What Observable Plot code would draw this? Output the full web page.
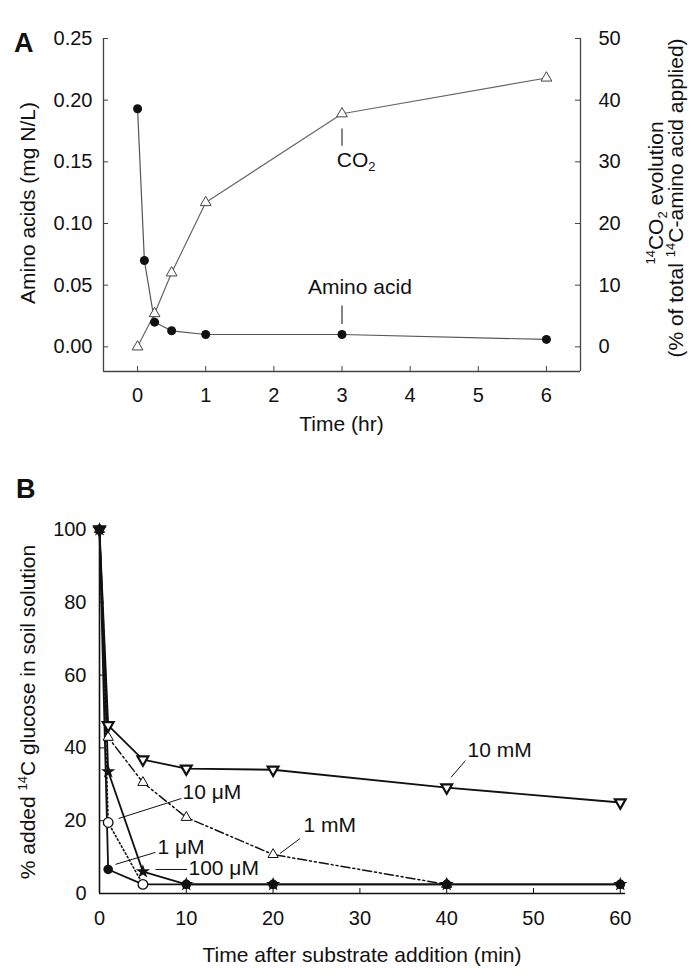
<!DOCTYPE html>
<html><head><meta charset="utf-8">
<script src="https://cdn.jsdelivr.net/npm/d3@7"></script>
<script src="https://cdn.jsdelivr.net/npm/@observablehq/plot@0.6"></script>
<style>
body{margin:0;background:#fff;}
#chart{width:700px;height:980px;font-family:"Liberation Sans",Arial,sans-serif;}
#chart svg{display:block;}
</style></head><body><div id="chart"></div>
<script>
// ---------- Panel A data ----------
const timeAmino = [0, 0.1, 0.25, 0.5, 1, 3, 6];
const aminoAcid = [0.193, 0.070, 0.020, 0.013, 0.010, 0.010, 0.006];
const timeCO2 = [0, 0.25, 0.5, 1, 3, 6];
const co2Evolution = [0, 5.4, 12.0, 23.4, 37.8, 43.6];
const xTicksA = [0, 1, 2, 3, 4, 5, 6];
const yTicksA = [0, 0.05, 0.10, 0.15, 0.20, 0.25];
const yTicksA2 = [0, 10, 20, 30, 40, 50];

// ---------- Panel B data ----------
const timeB = [0, 1, 5, 10, 20, 40, 60];
const glc10mM = [100, 46.2, 36.8, 34.3, 34.0, 29.1, 25.0];
const time1mM = [0, 1, 5, 10, 20, 40];
const glc1mM = [100, 42.9, 30.5, 20.9, 10.7, 2.5];
const glc100uM = [100, 33.5, 6.0, 2.5, 2.5, 2.5, 2.5];
const time10uM = [0, 1, 5];
const glc10uM = [100, 19.5, 2.5];
const glc1uM = [100, 6.6, 2.5, 2.5, 2.5, 2.5, 2.5];
const xTicksB = [0, 10, 20, 30, 40, 50, 60];
const yTicksB = [0, 20, 40, 60, 80, 100];
const labelsB = ["10 mM", "1 mM", "10 \u03BCM", "1 \u03BCM", "100 \u03BCM"];

const FONT = "'Liberation Sans', Arial, sans-serif";
const INK = "#111";
const k = yTicksA[yTicksA.length - 1] / yTicksA2[yTicksA2.length - 1]; // right-axis -> left-axis factor

const zip = (xs, ys) => xs.map((t, i) => ({t, v: ys[i]}));
const aminoData = zip(timeAmino, aminoAcid);
const co2Data = timeCO2.map((t, i) => ({t, v: co2Evolution[i] * k}));

function richText(svg, {x, y, rotate = 0, anchor = "middle", parts, size = 21, weight = "normal"}) {
  const t = d3.select(svg).append("text")
    .attr("transform", `translate(${x},${y}) rotate(${rotate})`)
    .attr("text-anchor", anchor)
    .attr("font-family", FONT)
    .attr("font-size", size)
    .attr("font-weight", weight)
    .attr("fill", INK);
  for (const p of parts) {
    const ts = t.append("tspan").text(p.text);
    if (p.sup) ts.attr("font-size", size * 0.62).attr("baseline-shift", size * 0.38);
    if (p.sub) ts.attr("font-size", size * 0.62).attr("baseline-shift", -size * 0.2);
  }
  return t;
}

// ---------- Panel A ----------
const fwA = 700 - 103 - 120, fhA = 450 - 38 - 79;
const plotA = Plot.plot({
  width: 700, height: 450,
  marginLeft: 103, marginRight: 120, marginTop: 38, marginBottom: 79,
  x: {domain: [-0.5, 6.5]},
  y: {domain: [-0.02, 0.25]},
  style: {fontFamily: FONT, fontSize: "20px", color: INK, background: "white", overflow: "visible"},
  marks: [
    Plot.ruleX([-0.5, 6.5], {stroke: "#444", strokeWidth: 1.3}),
    Plot.ruleY([-0.02], {stroke: "#444", strokeWidth: 1.3}),
    Plot.tickY(yTicksA, {y: d => d, insetRight: fwA - 5, stroke: "#444"}),
    Plot.tickY(yTicksA, {y: d => d, insetLeft: fwA - 5, stroke: "#444"}),
    Plot.tickX(xTicksA, {x: d => d, insetTop: fhA - 5, stroke: "#444"}),
    Plot.axisX({ticks: xTicksA, tickFormat: d3.format("d"), tickSize: 0, tickPadding: 16, fontSize: 20, label: null}),
    Plot.axisY({anchor: "left", ticks: yTicksA, tickFormat: d3.format(".2f"), tickSize: 0, tickPadding: 11, fontSize: 20, label: null}),
    Plot.axisY({anchor: "right", ticks: yTicksA, tickFormat: d => Math.round(d / k), tickSize: 0, tickPadding: 18, fontSize: 20, label: null}),
    Plot.line(co2Data, {x: "t", y: "v", stroke: "#666", strokeWidth: 1.2}),
    Plot.line(aminoData, {x: "t", y: "v", stroke: "#555", strokeWidth: 1.2}),
    Plot.dot(co2Data, {x: "t", y: "v", symbol: "triangle", r: 4, stroke: "#444", fill: "white", strokeWidth: 1}),
    Plot.dot(aminoData, {x: "t", y: "v", r: 4.5, fill: INK}),
    Plot.link([{x1: 3, y1: 0.177, x2: 3, y2: 0.163}, {x1: 3, y1: 0.0335, x2: 3, y2: 0.0185}],
      {x1: "x1", y1: "y1", x2: "x2", y2: "y2", stroke: "#333", strokeWidth: 1.2}),
    Plot.text(["Amino acid"], {x: [2.5], y: [0.048], text: d => d, textAnchor: "start", fontSize: 21, fill: INK})
  ]
});
{
  const sx = plotA.scale("x").apply, sy = plotA.scale("y").apply;
  richText(plotA, {x: sx(2.93), y: sy(0.151) + 7, anchor: "start", parts: [{text: "CO"}, {text: "2", sub: true}]});
  richText(plotA, {x: 14, y: 52, anchor: "start", size: 27, weight: "bold", parts: [{text: "A"}]});
  richText(plotA, {x: (sx(-0.5) + sx(6.5)) / 2, y: 431, parts: [{text: "Time (hr)"}]});
  richText(plotA, {x: 35, y: 203, rotate: -90, parts: [{text: "Amino acids (mg N/L)"}]});
  richText(plotA, {x: 663, y: 193, rotate: -90, parts: [{text: "14", sup: true}, {text: "CO"}, {text: "2", sub: true}, {text: " evolution"}]});
  richText(plotA, {x: 683, y: 198, rotate: -90, parts: [{text: "(% of total "}, {text: "14", sup: true}, {text: "C-amino acid applied)"}]});
}

// ---------- Panel B ----------
const fwB = 700 - 99 - 75, fhB = 530 - 79 - 87;
const d10mM = zip(timeB, glc10mM);
const d1mM = zip(time1mM, glc1mM);
const d100uM = zip(timeB, glc100uM);
const d10uM = zip(time10uM, glc10uM);
const d1uM = zip(timeB, glc1uM);
const plotB = Plot.plot({
  width: 700, height: 530,
  marginLeft: 99, marginRight: 75, marginTop: 79, marginBottom: 87,
  x: {domain: [0, 60.6]},
  y: {domain: [0, 100]},
  style: {fontFamily: FONT, fontSize: "20px", color: INK, background: "white", overflow: "visible"},
  marks: [
    Plot.ruleX([0], {stroke: INK, strokeWidth: 1.6}),
    Plot.ruleY([0], {stroke: INK, strokeWidth: 1.6}),
    Plot.tickY(yTicksB, {y: d => d, insetRight: fwB - 5, stroke: INK}),
    Plot.tickX(xTicksB, {x: d => d, insetTop: fhB - 5, stroke: INK}),
    Plot.axisX({ticks: xTicksB, tickSize: 0, tickPadding: 17, fontSize: 20, label: null}),
    Plot.axisY({ticks: yTicksB, tickSize: 0, tickPadding: 13, fontSize: 20, label: null}),
    Plot.line(d10mM, {x: "t", y: "v", stroke: INK, strokeWidth: 1.8}),
    Plot.line(d1mM, {x: "t", y: "v", stroke: INK, strokeWidth: 1.5, strokeDasharray: "9,3,2,3,2,3"}),
    Plot.line(d100uM, {x: "t", y: "v", stroke: INK, strokeWidth: 1.8}),
    Plot.line(d10uM, {x: "t", y: "v", stroke: INK, strokeWidth: 1.6, strokeDasharray: "1.5,2.5"}),
    Plot.line(d1uM, {x: "t", y: "v", stroke: INK, strokeWidth: 1.8}),
    Plot.link([
      {x1: 42.15, y1: 36.5, x2: 40.5, y2: 31.9},
      {x1: 23.1, y1: 15.1, x2: 20.8, y2: 11.0},
      {x1: 9.44, y1: 26.1, x2: 2.19, y2: 20.6},
      {x1: 6.45, y1: 11.3, x2: 1.84, y2: 8.0},
      {x1: 6.45, y1: 6.6, x2: 10.1, y2: 6.6}
    ], {x1: "x1", y1: "y1", x2: "x2", y2: "y2", stroke: INK, strokeWidth: 1}),
    Plot.dot(d1mM, {x: "t", y: "v", symbol: "triangle", r: 3.8, stroke: INK, fill: "white", strokeWidth: 1}),
    Plot.dot(d10mM, {x: "t", y: "v", symbol: "triangle", rotate: 180, r: 4, stroke: INK, fill: "white", strokeWidth: 2.2}),
    Plot.dot(d100uM, {x: "t", y: "v", symbol: "star", r: 4.5, fill: INK}),
    Plot.dot(d1uM, {x: "t", y: "v", r: 4.8, fill: INK}),
    Plot.dot(d10uM, {filter: d => d.t > 0, x: "t", y: "v", r: 4.8, fill: "white", stroke: INK, strokeWidth: 1.3}),
    Plot.text(labelsB, {x: [42.4, 23.5, 9.56, 6.68, 10.25], y: [39.3, 18.7, 27.7, 12.6, 6.9], text: d => d, textAnchor: "start", fontSize: 21, fill: INK})
  ]
});
{
  const sx = plotB.scale("x").apply;
  richText(plotB, {x: 16, y: 48, anchor: "start", size: 27, weight: "bold", parts: [{text: "B"}]});
  richText(plotB, {x: (sx(0) + sx(60.6)) / 2, y: 512, parts: [{text: "Time after substrate addition (min)"}]});
  richText(plotB, {x: 35, y: 262, rotate: -90, parts: [{text: "% added "}, {text: "14", sup: true}, {text: "C glucose in soil solution"}]});
}

document.getElementById("chart").append(plotA, plotB);
</script></body></html>
